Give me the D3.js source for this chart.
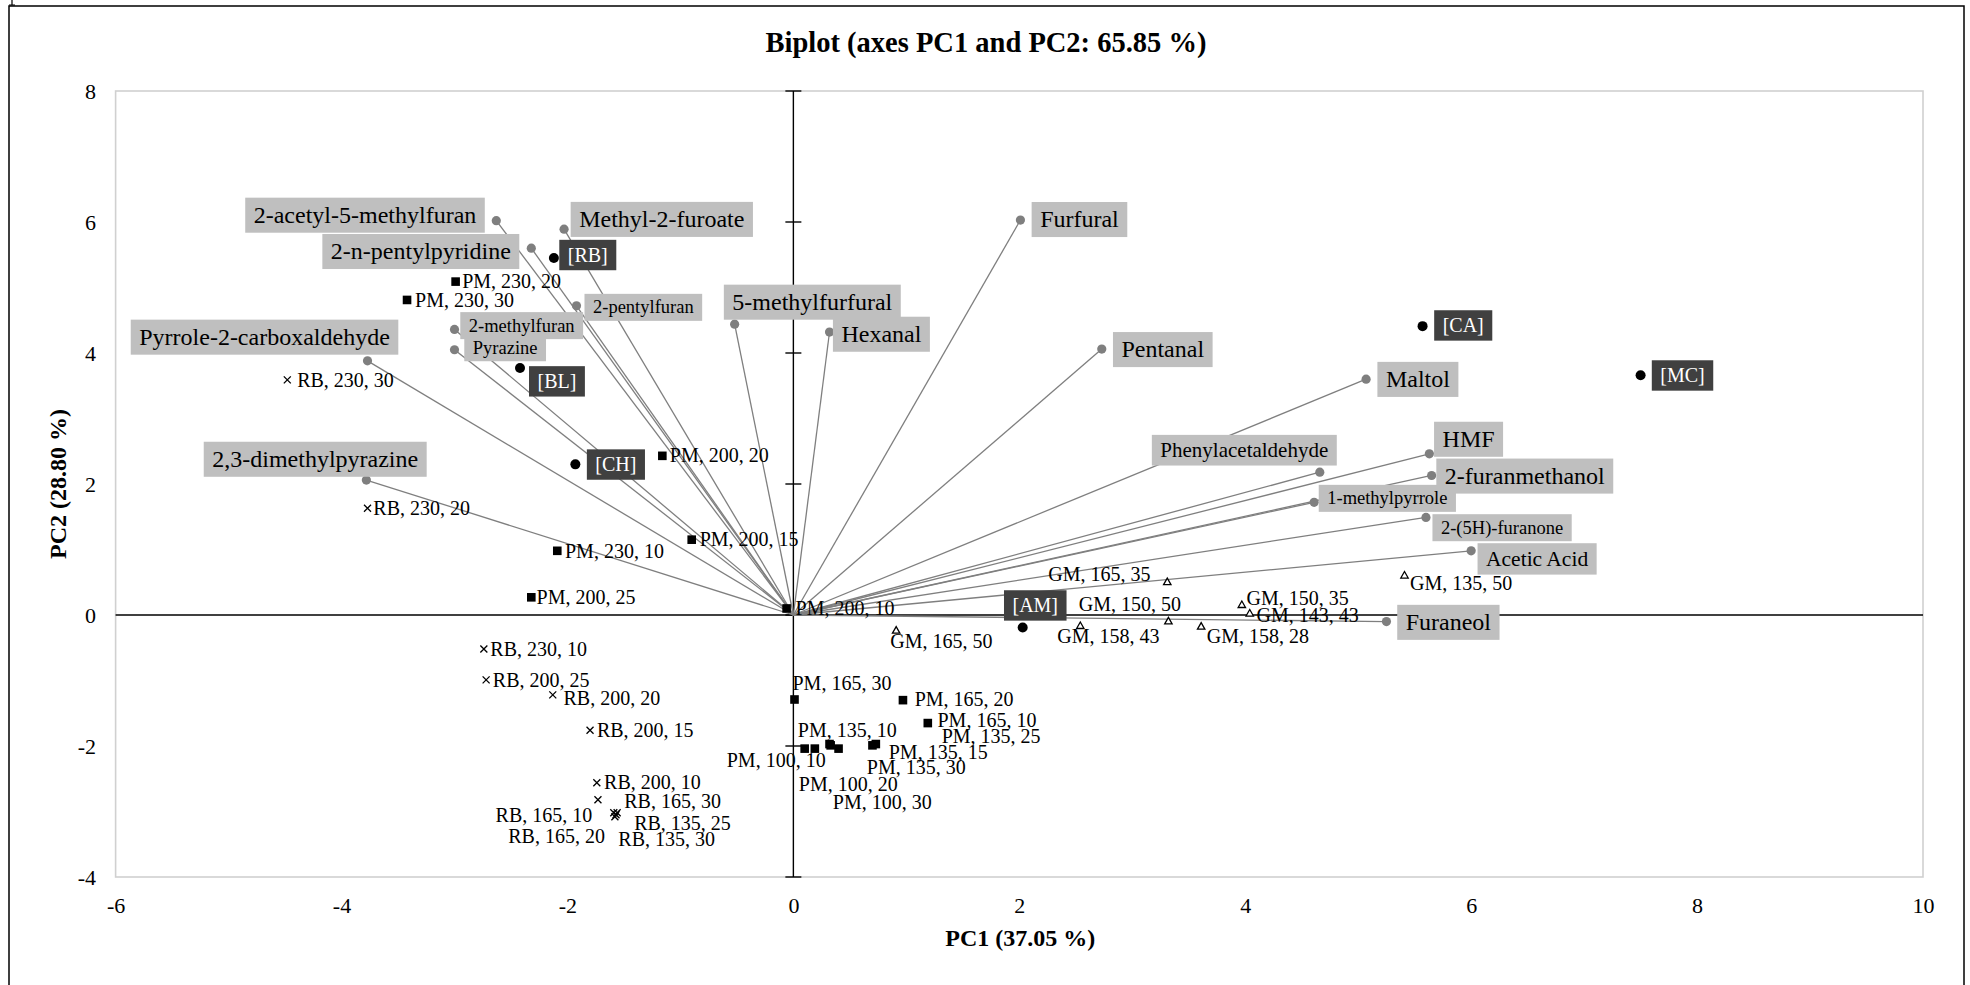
<!DOCTYPE html>
<html>
<head>
<meta charset="utf-8">
<script src="https://cdn.jsdelivr.net/npm/d3@7"></script>
<style>
  body { margin: 0; background: #fff; }
  svg { display: block; }
  text { font-family: "Liberation Serif", "Times New Roman", serif; }
</style>
</head>
<body>
<svg id="chart" width="1970" height="985"></svg>
<script>
// ---- Axis ticks ----
const xTicks = [-6, -4, -2, 0, 2, 4, 6, 8, 10];
const yTicks = [-4, -2, 0, 2, 4, 6, 8];

// ---- Active variables (loadings drawn as vectors) ----
const varNames = ["2-acetyl-5-methylfuran", "2-n-pentylpyridine", "Methyl-2-furoate", "2-pentylfuran",
  "Pyrazine", "2-methylfuran", "Pyrrole-2-carboxaldehyde", "2,3-dimethylpyrazine", "5-methylfurfural",
  "Hexanal", "Furfural", "Pentanal", "Maltol", "HMF", "Phenylacetaldehyde", "2-furanmethanol",
  "1-methylpyrrole", "2-(5H)-furanone", "Acetic Acid", "Furaneol"];
const varPC1 = [-2.63, -2.32, -2.03, -1.92, -3.00, -3.00, -3.77, -3.78, -0.52, 0.32, 2.01, 2.73,
  5.07, 5.63, 4.66, 5.65, 4.61, 5.60, 6.00, 5.25];
const varPC2 = [6.02, 5.60, 5.89, 4.72, 4.05, 4.36, 3.88, 2.06, 4.44, 4.32, 6.03, 4.06,
  3.60, 2.46, 2.18, 2.13, 1.72, 1.49, 0.98, -0.10];

// ---- Reference samples (black circles) ----
const refNames = ["[RB]", "[BL]", "[CH]", "[AM]", "[CA]", "[MC]"];
const refPC1 = [-2.12, -2.42, -1.93, 2.03, 5.57, 7.50];
const refPC2 = [5.45, 3.77, 2.30, -0.19, 4.41, 3.66];

// ---- PM samples (squares) ----
const pmNames = ["PM, 230, 20", "PM, 230, 30", "PM, 200, 20", "PM, 230, 10", "PM, 200, 15", "PM, 200, 25",
  "PM, 200, 10", "PM, 165, 30", "PM, 165, 20", "PM, 165, 10", "PM, 100, 10", "PM, 100, 20",
  "PM, 135, 10", "PM, 135, 25", "PM, 100, 30", "PM, 135, 15", "PM, 135, 30"];
const pmPC1 = [-2.99, -3.42, -1.16, -2.09, -0.90, -2.32, -0.06, 0.01, 0.97, 1.19, 0.10, 0.19,
  0.32, 0.33, 0.40, 0.70, 0.73];
const pmPC2 = [5.09, 4.81, 2.43, 0.98, 1.15, 0.27, 0.10, -1.29, -1.30, -1.65, -2.04, -2.04,
  -1.97, -1.99, -2.04, -1.99, -1.97];

// ---- RB samples (crosses) ----
const rbNames = ["RB, 230, 30", "RB, 230, 20", "RB, 230, 10", "RB, 200, 25", "RB, 200, 20", "RB, 200, 15",
  "RB, 200, 10", "RB, 165, 30", "RB, 165, 10", "RB, 165, 20", "RB, 135, 25", "RB, 135, 30"];
const rbPC1 = [-4.48, -3.77, -2.74, -2.72, -2.13, -1.80, -1.74, -1.73, -1.59, -1.58, -1.56, -1.57];
const rbPC2 = [3.59, 1.63, -0.52, -0.99, -1.22, -1.76, -2.56, -2.82, -3.02, -3.08, -3.02, -3.05];

// ---- GM samples (open triangles) ----
const gmNames = ["GM, 165, 35", "GM, 150, 50", "GM, 158, 43", "GM, 158, 28", "GM, 150, 35",
  "GM, 143, 43", "GM, 165, 50", "GM, 135, 50"];
const gmPC1 = [3.31, 3.32, 2.54, 3.61, 3.97, 4.04, 0.91, 5.41];
const gmPC2 = [0.51, -0.09, -0.16, -0.17, 0.16, 0.03, -0.23, 0.61];

// ---- Label placement (pixel offsets from the marker) ----
// variable boxes: [edge side, dx to that edge, dy to box centre, font size]
const varLabelLayout = {
  "2-acetyl-5-methylfuran": ["R", -11.5, -5.5, 24],
  "2-n-pentylpyridine": ["R", -12, 3.3, 24],
  "Methyl-2-furoate": ["L", 6.6, -9.8, 24],
  "2-pentylfuran": ["L", 8, 1.5, 18.5],
  "Pyrazine": ["L", 9.8, -2, 18.5],
  "2-methylfuran": ["L", 5.8, -3.8, 18.5],
  "Pyrrole-2-carboxaldehyde": ["R", 30.8, -23.7, 24],
  "2,3-dimethylpyrazine": ["R", 60.3, -20.8, 24],
  "5-methylfurfural": ["L", -10.8, -22, 24],
  "Hexanal": ["L", 3.4, 2.2, 24],
  "Furfural": ["L", 11.2, -0.5, 24],
  "Pentanal": ["L", 11.2, 0.5, 24],
  "Maltol": ["L", 11.3, 0.2, 24],
  "HMF": ["L", 4.7, -14.6, 24],
  "Phenylacetaldehyde": ["R", 17, -22, 21],
  "2-furanmethanol": ["L", 4.7, 0.6, 24],
  "1-methylpyrrole": ["L", 4.6, -4, 18.5],
  "2-(5H)-furanone": ["L", 6.5, 10.3, 18.5],
  "Acetic Acid": ["L", 6.4, 8.1, 21.5],
  "Furaneol": ["L", 10.8, 0.8, 24]
};
// reference boxes: [dx to left edge, dy to box centre]
const refLabelLayout = {
  "[RB]": [5.4, -3], "[BL]": [9, 13.3], "[CH]": [11.5, 0.2],
  "[AM]": [-18.7, -22], "[CA]": [11.6, -0.7], "[MC]": [11.2, 0.2]
};
// sample labels: [dx, dy to baseline, anchor]
const sampleLabelLayout = {
  "PM, 230, 20": [6.6, 6.6], "PM, 230, 30": [8, 6.7], "PM, 200, 20": [7.5, 6],
  "PM, 230, 10": [7.7, 7.6], "PM, 200, 15": [8, 6.7], "PM, 200, 25": [5.3, 6.7],
  "PM, 200, 10": [9, 6.7], "PM, 165, 30": [-2, -9.3], "PM, 165, 20": [11.7, 6],
  "PM, 165, 10": [9.7, 3.7], "PM, 135, 25": [111, -2], "PM, 135, 10": [-31.7, -7],
  "PM, 100, 10": [21, 18.7, "end"], "PM, 100, 20": [-16, 42.7], "PM, 100, 30": [-5.7, 60],
  "PM, 135, 15": [16.3, 13.7], "PM, 135, 30": [-9, 30],
  "RB, 230, 30": [9.9, 7.3], "RB, 230, 20": [5.8, 6.7], "RB, 230, 10": [6.5, 7],
  "RB, 200, 25": [6.7, 6.7], "RB, 200, 20": [10.7, 10], "RB, 200, 15": [6.9, 6.7],
  "RB, 200, 10": [7.3, 6.6], "RB, 165, 30": [26.3, 8.3], "RB, 165, 10": [-21.5, 8.7, "end"],
  "RB, 165, 20": [-10, 26.3, "end"], "RB, 135, 25": [17, 17], "RB, 135, 30": [2.3, 31.7],
  "GM, 165, 35": [-16.7, -1, "end"], "GM, 150, 50": [-89.7, -10], "GM, 158, 43": [-23, 17.6],
  "GM, 158, 28": [5.7, 17], "GM, 150, 35": [4.7, 0], "GM, 143, 43": [6.7, 9],
  "GM, 165, 50": [-5.8, 18], "GM, 135, 50": [5.5, 15]
};

// ---- Drawing ----
const svg = d3.select("#chart");
const plot = { left: 115.6, right: 1923, top: 91, bottom: 877 };

const x = d3.scaleLinear().domain([-6, 10]).range([plot.left, plot.right]);
const y = d3.scaleLinear().domain([-4, 8]).range([plot.bottom, plot.top]);

// outer frame
svg.append("rect")
  .attr("x", 9).attr("y", 6).attr("width", 1955).attr("height", 990)
  .attr("fill", "none").attr("stroke", "#000").attr("stroke-width", 1.5);
svg.append("path")
  .attr("d", "M12,0V5M9,5H15")
  .attr("stroke", "#000").attr("stroke-width", 1.2).attr("fill", "none");

// title
svg.append("text")
  .attr("x", 986).attr("y", 52)
  .attr("text-anchor", "middle")
  .attr("font-size", 28.5).attr("font-weight", "bold")
  .text("Biplot (axes PC1 and PC2: 65.85 %)");

// plot area border
svg.append("rect")
  .attr("x", plot.left).attr("y", plot.top)
  .attr("width", plot.right - plot.left).attr("height", plot.bottom - plot.top)
  .attr("fill", "none").attr("stroke", "#d0d0d0").attr("stroke-width", 1.6);

// tick labels (plain hyphen for negatives)
const tickFmt = d => String(d);
const yAxis = svg.append("g")
  .attr("transform", `translate(${plot.left},0)`)
  .call(d3.axisLeft(y).tickValues(yTicks).tickSize(0).tickPadding(19.5).tickFormat(tickFmt));
const xAxis = svg.append("g")
  .attr("transform", `translate(0,${plot.bottom})`)
  .call(d3.axisBottom(x).tickValues(xTicks).tickSize(0).tickPadding(20.4).tickFormat(tickFmt));
[xAxis, yAxis].forEach(g => {
  g.select(".domain").remove();
  g.selectAll("text")
    .attr("font-family", "'Liberation Serif', 'Times New Roman', serif")
    .attr("font-size", 22).attr("fill", "#000");
});

// axis titles
svg.append("text")
  .attr("x", (plot.left + plot.right) / 2 + 1).attr("y", 946)
  .attr("text-anchor", "middle").attr("font-size", 24).attr("font-weight", "bold")
  .text("PC1 (37.05 %)");
svg.append("text")
  .attr("transform", `translate(66,${(plot.top + plot.bottom) / 2}) rotate(-90)`)
  .attr("text-anchor", "middle").attr("font-size", 24).attr("font-weight", "bold")
  .text("PC2 (28.80 %)");

// zero axes
const zeroAxes = svg.append("g").attr("stroke", "#000").attr("stroke-width", 1.4);
zeroAxes.append("line")
  .attr("x1", x(-6)).attr("x2", x(10)).attr("y1", y(0)).attr("y2", y(0));
zeroAxes.append("line")
  .attr("x1", x(0)).attr("x2", x(0)).attr("y1", y(8)).attr("y2", y(-4));
zeroAxes.selectAll("line.tick").data(yTicks).join("line")
  .attr("class", "tick")
  .attr("x1", x(0) - 8).attr("x2", x(0) + 8)
  .attr("y1", d => y(d)).attr("y2", d => y(d));

// variable vectors
const vars = varNames.map((n, i) => ({ name: n, pc1: varPC1[i], pc2: varPC2[i] }));
svg.append("g").selectAll("line").data(vars).join("line")
  .attr("x1", x(0)).attr("y1", y(0))
  .attr("x2", d => x(d.pc1)).attr("y2", d => y(d.pc2))
  .attr("stroke", "#7f7f7f").attr("stroke-width", 1.3);
svg.append("g").selectAll("circle").data(vars).join("circle")
  .attr("cx", d => x(d.pc1)).attr("cy", d => y(d.pc2)).attr("r", 4.6)
  .attr("fill", "#7f7f7f");

// boxed label helper
function boxedLabel(parent, text, left, right, cy, size, fill, color, hFactor) {
  const g = parent.append("g");
  const rect = g.append("rect").attr("fill", fill);
  const t = g.append("text").attr("font-size", size).attr("fill", color).text(text);
  const w = t.node().getComputedTextLength();
  const padX = 8.5;
  const bw = w + 2 * padX;
  const bx = left !== null ? left : right - bw;
  const bh = size * hFactor;
  rect.attr("x", bx).attr("y", cy - bh / 2).attr("width", bw).attr("height", bh);
  t.attr("x", bx + padX).attr("y", cy + size * 0.33);
}

const varLabels = svg.append("g");
vars.forEach(d => {
  const [side, dx, dy, size] = varLabelLayout[d.name];
  const px = x(d.pc1), py = y(d.pc2);
  boxedLabel(varLabels, d.name, side === "L" ? px + dx : null, side === "R" ? px + dx : null,
    py + dy, size, "#bfbfbf", "#000", 1.46);
});

// reference samples
const refs = refNames.map((n, i) => ({ name: n, pc1: refPC1[i], pc2: refPC2[i] }));
svg.append("g").selectAll("circle").data(refs).join("circle")
  .attr("cx", d => x(d.pc1)).attr("cy", d => y(d.pc2)).attr("r", 5)
  .attr("fill", "#000");
const refLabels = svg.append("g");
refs.forEach(d => {
  const [dx, dy] = refLabelLayout[d.name];
  boxedLabel(refLabels, d.name, x(d.pc1) + dx, null, y(d.pc2) + dy, 20, "#404040", "#fff", 1.52);
});

// sample markers
const pm = pmNames.map((n, i) => ({ name: n, pc1: pmPC1[i], pc2: pmPC2[i] }));
const rb = rbNames.map((n, i) => ({ name: n, pc1: rbPC1[i], pc2: rbPC2[i] }));
const gm = gmNames.map((n, i) => ({ name: n, pc1: gmPC1[i], pc2: gmPC2[i] }));

svg.append("g").selectAll("rect").data(pm).join("rect")
  .attr("x", d => x(d.pc1) - 4.3).attr("y", d => y(d.pc2) - 4.3)
  .attr("width", 8.6).attr("height", 8.6).attr("fill", "#000");

svg.append("g").selectAll("path").data(rb).join("path")
  .attr("transform", d => `translate(${x(d.pc1)},${y(d.pc2)})`)
  .attr("d", "M-3.5,-3.5L3.5,3.5M-3.5,3.5L3.5,-3.5")
  .attr("stroke", "#000").attr("stroke-width", 1.3).attr("fill", "none");

svg.append("g").selectAll("path").data(gm).join("path")
  .attr("transform", d => `translate(${x(d.pc1)},${y(d.pc2)})`)
  .attr("d", "M0,-3.5L3.7,3L-3.7,3Z")
  .attr("stroke", "#000").attr("stroke-width", 1.3).attr("fill", "#fff");

// sample labels
svg.append("g").selectAll("text").data(pm.concat(rb, gm)).join("text")
  .attr("x", d => x(d.pc1) + sampleLabelLayout[d.name][0])
  .attr("y", d => y(d.pc2) + sampleLabelLayout[d.name][1])
  .attr("text-anchor", d => sampleLabelLayout[d.name][2] || "start")
  .attr("font-size", 20).attr("fill", "#000")
  .text(d => d.name);
</script>
</body>
</html>
